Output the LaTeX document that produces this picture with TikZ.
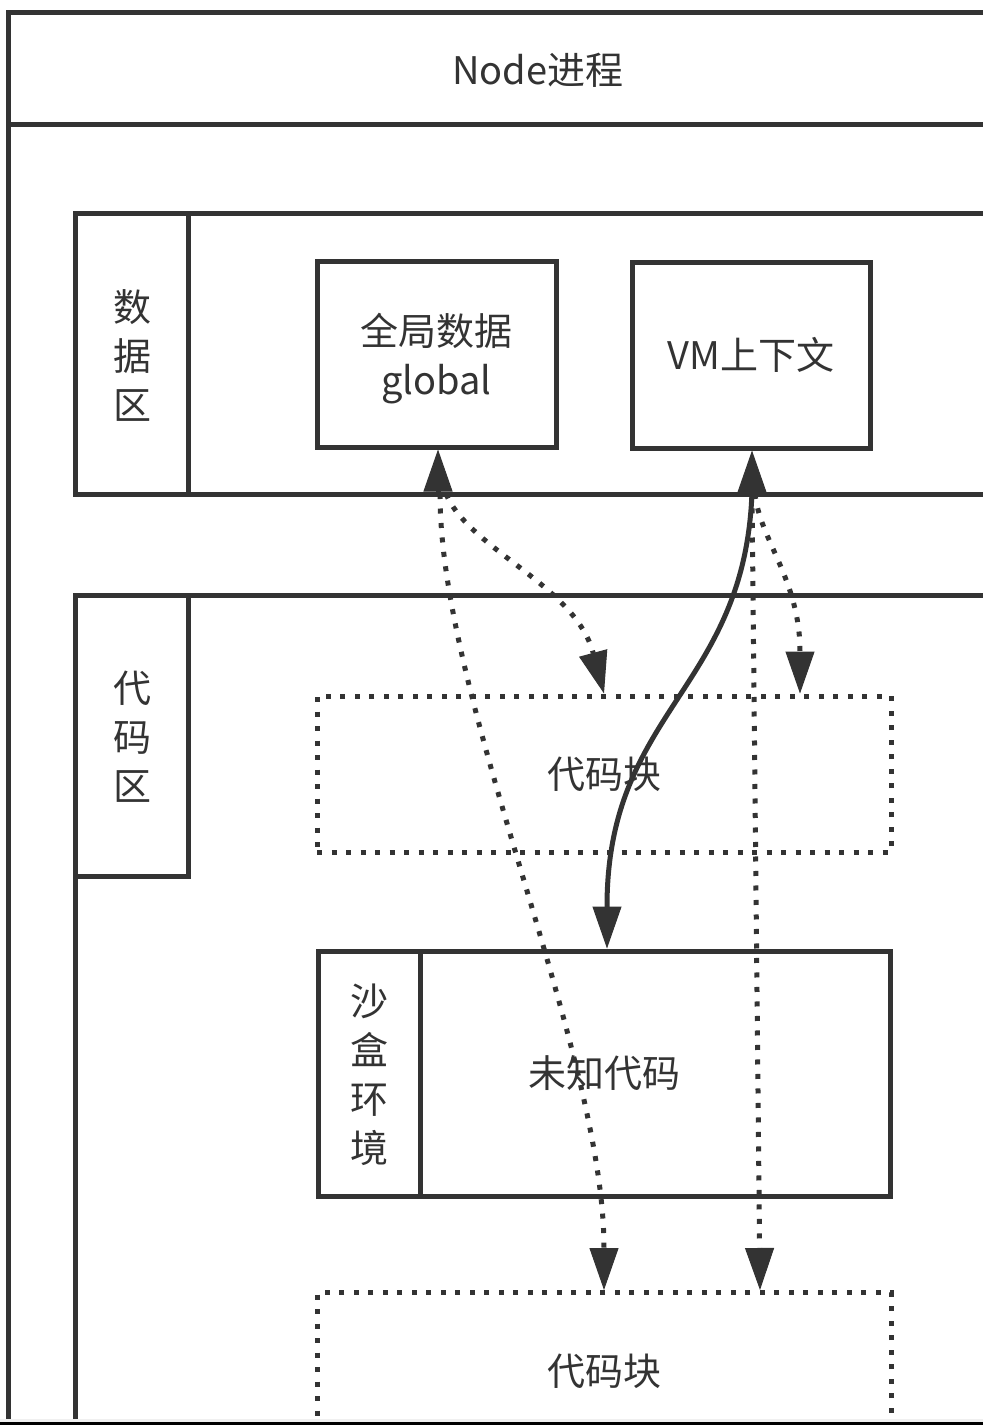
\documentclass[tikz,border=0pt]{standalone}
\usepackage{fontspec}
\setmainfont{Noto Sans CJK SC}
\usetikzlibrary{arrows.meta,calc}
\definecolor{ink}{HTML}{333333}
\newcommand\fs{\fontsize{38pt}{49pt}\selectfont}
\begin{document}
\begin{tikzpicture}[x=1pt,y=-1pt,
  ln/.style={draw=ink, line width=5pt},
  dotline/.style={draw=ink, line width=5pt, dash pattern=on 5pt off 9.5pt},
  box/.style={ln, inner sep=0pt},
  dotbox/.style={dotline, inner sep=0pt},
  tip/.style={-{Triangle[length=42pt,width=29pt,line width=1pt]}},
  txt/.style={text=ink, font=\fs, align=center}
]
\useasboundingbox (0,0) rectangle (983,1425);
\clip (0,0) rectangle (983,1425);
\fill[white] (0,0) rectangle (983,1425);

% outer process frame
\draw[ln] (1000,12) -- (8,12) -- (8,1440);
\draw[ln] (8,124) -- (1000,124);
\node[txt] (title) at (538,70) {Node进程};

% data area
\draw[ln] (1000,213) -- (75,213) -- (75,494) -- (1000,494);
\draw[ln] (188,213) -- (188,494);
\node[txt] (dlabel) at (132,355) {数\\据\\区};

\node[box, minimum width=239pt, minimum height=186pt] (global) at (436.5,354) {};
\node[txt] (gtext) at (436.5,359) {全局数据\\global};
\node[box, txt, minimum width=238pt, minimum height=186pt] (vm) at (751,355) {VM上下文};

% code area
\draw[ln] (1000,595) -- (75,595) -- (75,1440);
\draw[ln] (188,595) -- (188,876) -- (75,876);
\node[txt] (clabel) at (132,737) {代\\码\\区};

\node[dotbox, txt, minimum width=574pt, minimum height=156pt] (cb1) at (604,774) {代码块};

\node[box, txt, minimum width=572pt, minimum height=245pt] (sandbox) at (604,1073.5) {未知代码};
\draw[ln] (420,951) -- (420,1196);
\node[txt] (slabel) at (369,1075) {沙\\盒\\环\\境};

\node[dotbox, anchor=north, minimum width=574pt, minimum height=300pt] (cb2) at (604,1290) {};
\node[txt] (cb2text) at (604,1371) {代码块};

% connectors
\coordinate (gb) at (438,492);
\coordinate (vb) at (752,492);
\coordinate (g1) at (446,494);
\coordinate (g2) at (440,494);
\coordinate (v1) at (755,494);
\coordinate (v2) at (752,494);
\coordinate (xr) at (800,0);
\coordinate (xl) at (760,0);
\coordinate (xs) at (607,0);

\draw[ln, tip] (gb) -- (gb |- global.south);
\draw[ln, tip] (vb) -- (vb |- vm.south);

\draw[dotline, tip] (g1) .. controls (470,550) and (575,585) .. (cb1.north);
\draw[dotline, tip] (g2) .. controls (440,700) and (604,1050) .. (cb2.north);
\draw[dotline, tip] (v1) .. controls (760,540) and (800,580) .. (cb1.north -| xr);
\draw[dotline, tip] (v2) -- (cb2.north -| xl);
\draw[ln, tip] (vb) .. controls (745,690) and (607,710) .. (sandbox.north -| xs);

% bottom screenshot edge
\fill[gray!12] (0,1418.5) rectangle (983,1422);
\fill[black] (0,1422) rectangle (983,1425);
\end{tikzpicture}
\end{document}
